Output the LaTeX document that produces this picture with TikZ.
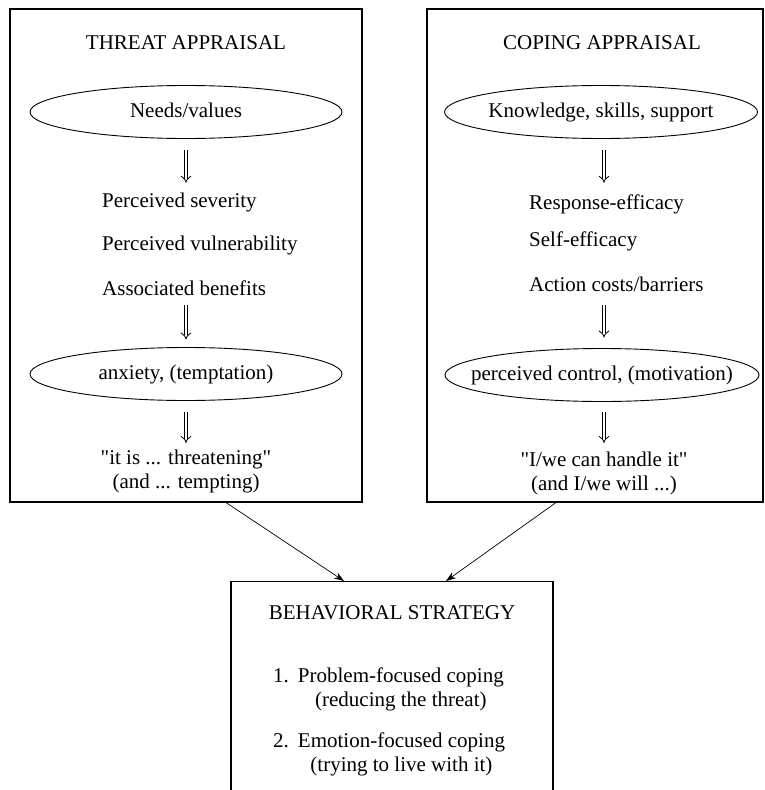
\documentclass[tikz,border=0pt]{standalone}
\usepackage{fontspec}
\setmainfont{Liberation Serif}
\usetikzlibrary{shapes.geometric,arrows.meta,calc}

\begin{document}
\begin{tikzpicture}[x=1pt,y=-1pt,
 every node/.style={font=\fontsize{21}{24}\selectfont,inner sep=0pt},
 line/.style={text height=15pt,text depth=5pt},
 panel/.style={draw,line width=1.1pt},
 oval/.style={ellipse,draw,line width=0.9pt,minimum height=53pt,text height=15pt,text depth=5pt},
 dbl/.style={double,double distance=2.8pt,line width=0.8pt,-{Implies}},
 feed/.style={-{Stealth[length=10pt,width=7pt]},line width=0.7pt}]
\useasboundingbox (0,0) rectangle (764,790);
\clip (0,0) rectangle (764,790);
% panels
\node[panel,minimum width=352pt,minimum height=493pt] (tpanel) at (186,255.5) {};
\node[panel,minimum width=336pt,minimum height=493pt] (cpanel) at (595,255.5) {};
\node[panel,minimum width=322pt,minimum height=225pt,anchor=north] (strat) at (392,581) {};
% threat appraisal
\node[line] (threat) at (186,44) {THREAT APPRAISAL};
\node[oval,minimum width=312pt] (needs) at (186,112) {\makebox[0pt]{Needs/values}};
\node[line,anchor=west] (sev) at (102,202) {Perceived severity};
\node[line,anchor=west] (vul) at (102,245) {Perceived vulnerability};
\node[line,anchor=west] (ben) at (102,290) {Associated benefits};
\node[oval,minimum width=312pt] (anx) at (186,374) {\makebox[0pt]{anxiety, (temptation)}};
\node[align=center,anchor=north] (verdict) at (186,450)
 {\textquotedbl it is ... threatening\textquotedbl\\(and ... tempting)};
\draw[dbl,shorten <=11.5pt,shorten >=9pt] (needs.south) -- (needs.south |- sev.north);
\draw[dbl,shorten <=5pt,shorten >=7.5pt] (anx.north |- ben.south) -- (anx.north);
\draw[dbl,shorten <=11.5pt,shorten >=7pt] (anx.south) -- (verdict.north);
% coping appraisal
\node[line] (coping) at (602,44) {COPING APPRAISAL};
\node[oval,minimum width=313pt] (know) at (601,112) {\makebox[0pt]{Knowledge, skills, support}};
\node[line,anchor=west] (resp) at (529,204) {Response-efficacy};
\node[line,anchor=west] (self) at (529,241) {Self-efficacy};
\node[line,anchor=west] (cost) at (529,286) {Action costs/barriers};
\node[oval,minimum width=314pt] (ctrl) at (602,375) {\makebox[0pt]{perceived control, (motivation)}};
\node[align=center,anchor=north] (handle) at (604,452)
 {\textquotedbl I/we can handle it\textquotedbl\\(and I/we will ...)};
\draw[dbl,shorten <=11.5pt,shorten >=11pt] ($(know.south)+(3,0)$) -- ($(know.south |- resp.north)+(3,0)$);
\draw[dbl,shorten <=9pt,shorten >=10.5pt] ($(ctrl.north |- cost.south)+(2,0)$) -- ($(ctrl.north)+(2,0)$);
\draw[dbl,shorten <=10.5pt,shorten >=9pt] ($(ctrl.south)+(2,0)$) -- (handle.north);
% behavioral strategy
\node[line] (behav) at (392,614) {BEHAVIORAL STRATEGY};
\node[anchor=base west] (item1) at (273,682)
 {1.\hspace{9pt}\begin{tabular}[t]{@{}c@{}}Problem-focused coping\\(reducing the threat)\end{tabular}};
\node[anchor=base west] (item2) at (273,747)
 {2.\hspace{9pt}\begin{tabular}[t]{@{}c@{}}Emotion-focused coping\\(trying to live with it)\end{tabular}};
\draw[feed] ($(tpanel.south)+(40,0)$) -- ($(strat.north)+(-48,0)$);
\draw[feed] ($(cpanel.south)+(-39,0)$) -- ($(strat.north)+(54,0)$);
\end{tikzpicture}
\end{document}
